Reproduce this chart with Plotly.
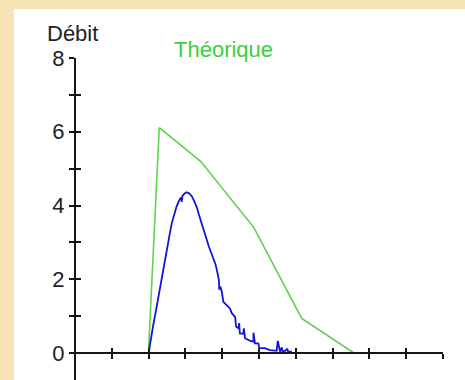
import plotly.graph_objects as go

# ---- data ----
theo_x = [2.00, 2.29, 3.42, 4.86, 6.16, 7.58]
theo_y = [0.10, 6.11, 5.19, 3.40, 0.94, 0.00]

meas_x = [2.00, 2.05, 2.12, 2.20, 2.28, 2.36, 2.43, 2.49, 2.56, 2.63, 2.70, 2.76,
          2.83, 2.88, 2.90, 2.92, 2.97, 3.03, 3.10, 3.17, 3.24, 3.31, 3.37, 3.44,
          3.51, 3.58, 3.64, 3.70, 3.76, 3.82, 3.87, 3.91, 3.92, 3.95, 3.99, 4.03,
          4.12, 4.21, 4.26, 4.35, 4.38, 4.44, 4.46, 4.48, 4.57, 4.59, 4.62, 4.76,
          4.85, 4.85, 4.89, 4.98, 5.01, 5.16, 5.30, 5.48, 5.51, 5.57, 5.62, 5.64,
          5.71, 5.77, 5.79, 5.89]
meas_y = [0.00, 0.35, 0.72, 1.15, 1.62, 2.07, 2.50, 2.80, 3.15, 3.52, 3.78, 3.97,
          4.14, 4.22, 4.10, 4.26, 4.32, 4.36, 4.33, 4.26, 4.12, 3.95, 3.74, 3.50,
          3.28, 3.06, 2.88, 2.72, 2.58, 2.40, 2.18, 1.98, 1.72, 1.80, 1.66, 1.39,
          1.30, 1.21, 1.08, 0.98, 0.71, 0.67, 0.81, 0.53, 0.52, 0.67, 0.40, 0.33,
          0.31, 0.55, 0.26, 0.26, 0.13, 0.13, 0.08, 0.06, 0.33, 0.04, 0.15, 0.05,
          0.06, 0.12, 0.03, 0.04]

y_tickvals = [0, 1, 2, 3, 4, 5, 6, 7, 8]
y_ticktext = ["0", "", "2", "", "4", "", "6", "", "8"]
x_tickvals = [1, 2, 3, 4, 5, 6, 7, 8, 9, 10]

W, H = 465, 380
x0px, x10px = 75, 443
y0px, y8px = 353, 58
px_per_y = (y0px - y8px) / 8.0
ymin = -(H - y0px) / px_per_y
xdom = [x0px / W, x10px / W]
ydom = [0, (H - y8px) / H]
xpos = (H - y0px) / H
ypos = x0px / W

fig = go.Figure()
fig.add_trace(go.Scatter(x=theo_x, y=theo_y, mode="lines",
                         line=dict(color="#5fd14f", width=1.6),
                         hoverinfo="skip", showlegend=False))
fig.add_trace(go.Scatter(x=meas_x, y=meas_y, mode="lines",
                         line=dict(color="#1414d8", width=1.8),
                         hoverinfo="skip", showlegend=False))
# invisible trace to materialise overlay axes (crossing ticks)
fig.add_trace(go.Scatter(x=[0], y=[0], xaxis="x2", yaxis="y2", mode="markers",
                         marker=dict(opacity=0), hoverinfo="skip", showlegend=False))

axcol = "#151515"
common_x = dict(domain=xdom, range=[0, 10], anchor="free", position=xpos,
                tickvals=x_tickvals, showticklabels=False, showgrid=False,
                zeroline=False, ticklen=5, tickwidth=2, tickcolor=axcol,
                automargin=False)
common_y = dict(domain=ydom, range=[ymin, 8], anchor="free", position=ypos,
                tickvals=y_tickvals, showgrid=False, zeroline=False,
                ticklen=5, tickwidth=2, tickcolor=axcol, automargin=False)

fig.update_layout(
    template="none",
    width=W, height=H,
    margin=dict(l=0, r=0, t=0, b=0, pad=0, autoexpand=False),
    paper_bgcolor="#f7e4b5",
    plot_bgcolor="rgba(0,0,0,0)",
    font=dict(family="Liberation Sans, Arial, sans-serif", color="#222222", size=22),
    xaxis=dict(**common_x, ticks="outside", showline=True, linecolor=axcol, linewidth=2),
    xaxis2=dict(**common_x, ticks="inside", overlaying="x", matches="x", showline=False),
    yaxis=dict(**common_y, ticks="outside", ticktext=y_ticktext, showline=True,
               linecolor=axcol, linewidth=2,
               tickfont=dict(size=22, color="#222222")),
    yaxis2=dict(**common_y, ticks="inside", overlaying="y", matches="y",
                showline=False, showticklabels=False),
    shapes=[dict(type="rect", xref="paper", yref="paper",
                 x0=14 / W, x1=1.0, y0=0.0, y1=(H - 9) / H,
                 fillcolor="white", line=dict(width=0), layer="below")],
    annotations=[
        dict(text="Débit", xref="paper", yref="paper", x=72 / W, y=(H - 33) / H,
             xanchor="center", yanchor="middle", showarrow=False,
             font=dict(size=22, color="#222222")),
        dict(text="Théorique", xref="paper", yref="paper", x=223 / W, y=(H - 50) / H,
             xanchor="center", yanchor="middle", showarrow=False,
             font=dict(size=22, color="#3ccf3c")),
    ],
)

fig.write_html("out.html")
